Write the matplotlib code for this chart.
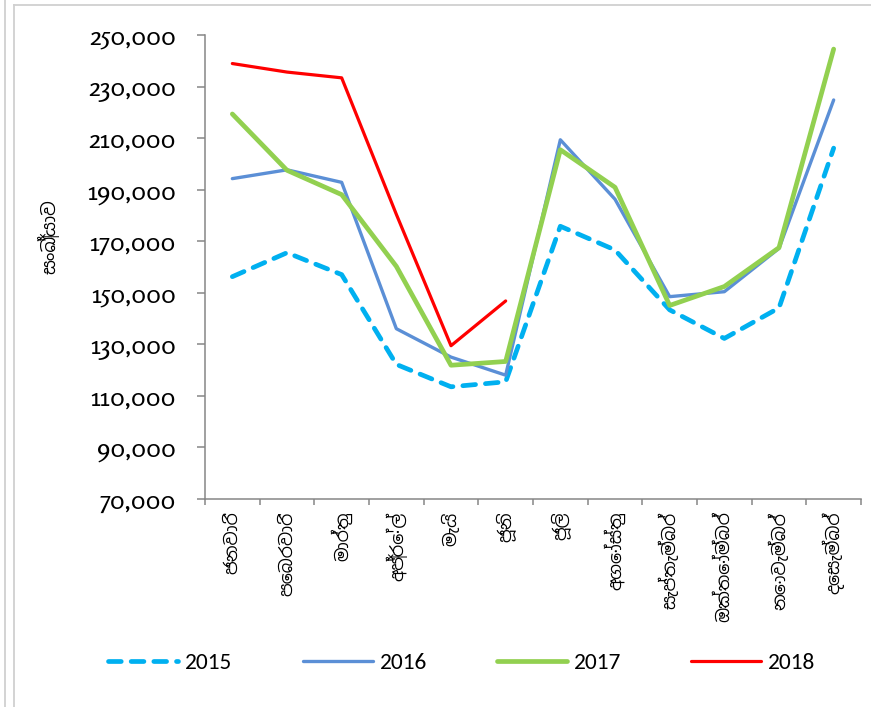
import matplotlib
matplotlib.use("Agg")
import matplotlib.pyplot as plt
from matplotlib.lines import Line2D
from matplotlib.ticker import FuncFormatter

# Months (Sinhala)
months = ["ජනවාරි", "පෙබරවාරි", "මාර්තු", "අප්‍රේල්", "මැයි", "ජූනි",
          "ජූලි", "අගෝස්තු", "සැප්තැම්බර්", "ඔක්තෝම්බර්", "නොවැම්බර්", "දෙසැම්බර්"]
ylabel = "සංඛ්‍යාව"

# Monthly values per year
y2015 = [156246, 165541, 157051, 122217, 113529, 115467,
         175804, 166610, 143374, 132280, 144147, 206114]
y2016 = [194280, 197697, 192841, 136064, 125044, 118038,
         209351, 186288, 148499, 150419, 167217, 224791]
y2017 = [219360, 197517, 188076, 160249, 121891, 123351,
         205482, 190928, 145077, 152429, 167511, 244536]
y2018 = [238924, 235618, 233382, 180429, 129466, 146828]

yticks = list(range(70000, 250001, 20000))

sinhala = ["Noto Sans Sinhala", "DejaVu Sans"]
axis_grey = "#868686"

fig = plt.figure(figsize=(8.71, 7.07), dpi=100)
ax = fig.add_axes([205 / 871, 1 - 499 / 707, 656 / 871, 464 / 707])

x = list(range(len(months)))
ax.plot(x, y2015, color="#00B0F0", lw=3.4, ls=(0, (2.7, 2.1)),
        dash_capstyle="round", solid_capstyle="round", label="2015")
ax.plot(x, y2016, color="#5B8FD6", lw=2.4, solid_capstyle="round", label="2016")
ax.plot(x, y2017, color="#92D050", lw=3.4, solid_capstyle="round", label="2017")
ax.plot(x[:len(y2018)], y2018, color="#FF0000", lw=2.3, solid_capstyle="round", label="2018")

ax.set_xlim(-0.5, len(months) - 0.5)
ax.set_ylim(70000, 250000)

# category axis: labels at centres, tick marks between categories
ax.set_xticks(x)
ax.set_xticklabels(months, rotation=90, family=sinhala, fontsize=12.5)
ax.set_xticks([i - 0.5 for i in range(len(months) + 1)], minor=True)
ax.tick_params(axis="x", which="major", length=0, pad=9)
ax.tick_params(axis="x", which="minor", length=4.5, width=1.1, color=axis_grey)

ax.set_yticks(yticks)
ax.yaxis.set_major_formatter(FuncFormatter(lambda v, p: f"{int(v):,}"))
ax.tick_params(axis="y", length=6, width=1.1, color=axis_grey, pad=15,
               labelsize=18.5, labelfontfamily="Rosario")

ax.spines["top"].set_visible(False)
ax.spines["right"].set_visible(False)
for s in ("left", "bottom"):
    ax.spines[s].set_color(axis_grey)
    ax.spines[s].set_linewidth(1.1)

ax.set_ylabel(ylabel, family=sinhala, fontsize=13, va="center")
ax.yaxis.set_label_coords(-0.238, 0.565)

leg = fig.legend(loc="center", bbox_to_anchor=(462 / 871, 1 - 663 / 707), ncol=4,
                 frameon=False, handlelength=3.0, handletextpad=0.3, columnspacing=3.0,
                 borderpad=0, prop={"family": ["Carlito", "DejaVu Sans"], "size": 16.8})

# light frame lines of the original chart box
frame = "#D0D0D0"
fig.add_artist(Line2D([4.5 / 871, 4.5 / 871], [0, 1], color=frame, lw=1.3))
fig.add_artist(Line2D([13.5 / 871, 13.5 / 871], [0, 1 - 5 / 707], color=frame, lw=1.3))
fig.add_artist(Line2D([13.5 / 871, 1], [1 - 5 / 707, 1 - 5 / 707], color=frame, lw=1.3))

fig.savefig("out.png", dpi=100)
